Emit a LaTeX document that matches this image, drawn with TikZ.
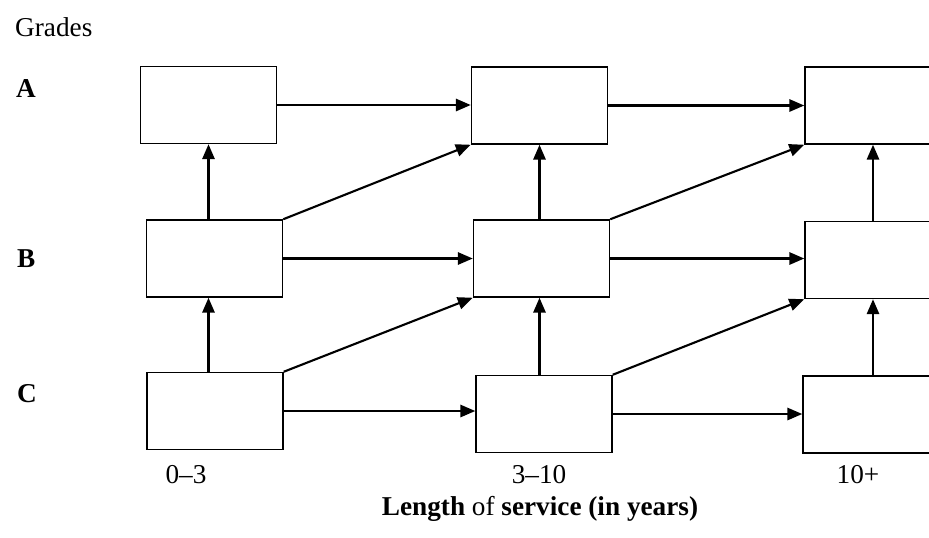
\documentclass[tikz,border=0pt]{standalone}
\usepackage{fontspec}
\setmainfont{Liberation Serif}
\usetikzlibrary{arrows.meta}

\begin{document}
\begin{tikzpicture}[x=0.2mm, y=-0.2mm, every node/.style={font=\fontsize{15.5}{18}\selectfont}, >={Triangle[length=8.5pt, width=7pt]},
	cell/.style={draw, line width=0.85pt, minimum width=27.2mm, minimum height=15.4mm, inner sep=0pt},
	move/.style={->, line width=1.2pt}]
	\clip (0,0) rectangle (929,537);
	\foreach \n/\x/\y in {a1/208.5/105, a2/539.5/105.5, a3/873/105.5, b1/214.5/258.5, b2/541.5/258.5, b3/873/260, c1/215/411, c2/544/414, c3/871/414.5}
		\node[cell] (\n) at (\x,\y) {};
	% same grade, next band
	\foreach \r in {a,b,c} {\draw[move] (\r1.east) -- (\r1.east -| \r2.west); \draw[move] (\r2.east) -- (\r2.east -| \r3.west);}
	% promotion within a band
	\foreach \k in {1,2,3} {\draw[move] (b\k.north -| a\k) -- (a\k.south); \draw[move] (c\k.north -| a\k) -- (b\k.south -| a\k);}
	% promotion into the next band
	\draw[move] (b1.north east) -- (a2.south west);
	\draw[move] (c1.north east) -- (b2.south west);
	\draw[move] (b2.north east) -- (a3.south west);
	\draw[move] (c2.north east) -- (b3.south west);
	\node[anchor=base west] (grades) at (9,36) {Grades};
	\node[anchor=base west] (ga) at (10,97) {\textbf{A}};
	\node[anchor=base west] (gb) at (11,267) {\textbf{B}};
	\node[anchor=base west] (gc) at (11,402) {\textbf{C}};
	\node[anchor=base] (y1) at (186,483) {0--3};
	\node[anchor=base] (y2) at (539,483) {3--10};
	\node[anchor=base] (y3) at (858,483) {10+};
	\node[anchor=base] (service) at (540,515) {\textbf{Length} of \textbf{service (in years)}};
\end{tikzpicture}
\end{document}
